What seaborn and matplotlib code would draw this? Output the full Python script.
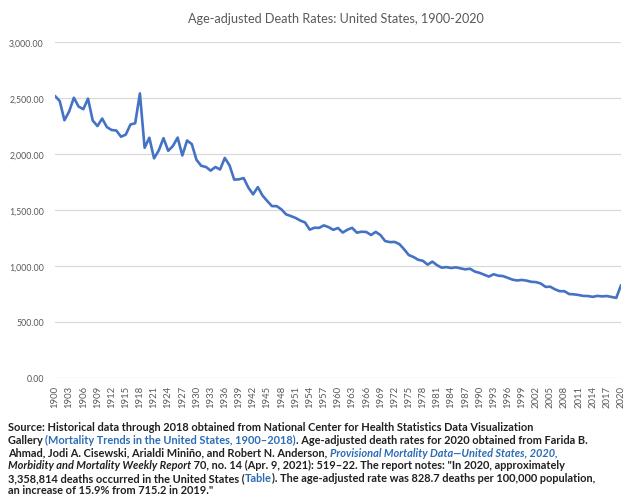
import numpy as np
import pandas as pd
import matplotlib
matplotlib.use("Agg")
import matplotlib.pyplot as plt
import seaborn as sns

years = list(range(1900, 2021))
death_rates = [
    2518.0, 2473.1, 2301.3, 2379.8, 2502.4, 2423.6, 2399.8, 2494.3, 2298.5, 2249.4,  # 1900-1909
    2316.5, 2240.3, 2214.1, 2209.9, 2154.0, 2173.2, 2263.5, 2274.5, 2541.1, 2055.5,  # 1910-1919
    2145.5, 1960.9, 2031.9, 2141.6, 2028.5, 2071.4, 2146.2, 1987.0, 2120.3, 2088.4,  # 1920-1929
    1947.8, 1894.4, 1884.4, 1851.5, 1884.0, 1861.7, 1964.8, 1898.8, 1771.4, 1773.9,  # 1930-1939
    1785.0, 1699.4, 1639.7, 1704.4, 1629.0, 1579.9, 1534.9, 1534.5, 1505.6, 1460.7,  # 1940-1949
    1446.0, 1429.2, 1405.9, 1389.0, 1324.5, 1341.8, 1340.6, 1362.6, 1346.9, 1323.2,  # 1950-1959
    1339.2, 1298.6, 1323.9, 1340.8, 1297.7, 1306.1, 1303.5, 1276.9, 1304.5, 1276.2,  # 1960-1969
    1222.6, 1213.1, 1214.8, 1196.2, 1150.2, 1097.8, 1080.6, 1055.6, 1046.5, 1012.1,  # 1970-1979
    1039.1, 1007.1, 985.0, 990.0, 982.0, 988.1, 978.6, 970.0, 975.7, 950.5,          # 1980-1989
    938.7, 922.3, 905.6, 926.1, 913.5, 909.8, 894.1, 878.1, 870.6, 875.6,            # 1990-1999
    869.0, 858.8, 855.9, 843.5, 813.7, 815.0, 791.8, 775.3, 774.9, 749.6,            # 2000-2009
    747.0, 741.3, 732.8, 731.9, 724.6, 733.1, 728.8, 731.9, 723.6, 715.2,            # 2010-2019
    828.7,                                                                           # 2020
]
tick_years = list(range(1900, 2021, 3))
y_ticks = [0, 500, 1000, 1500, 2000, 2500, 3000]
y_tick_labels = ["0.00", "500.00", "1,000.00", "1,500.00", "2,000.00", "2,500.00", "3,000.00"]

title = "Age-adjusted Death Rates: United States, 1900-2020"

DARK = "#231f20"
BLUE = "#2b6cb5"
source_lines = [
    [("Source: Historical data through 2018 obtained from National Center for Health Statistics Data Visualization", DARK, "normal")],
    [("Gallery ", DARK, "normal"),
     ("(Mortality Trends in the United States, 1900\u20132018)", BLUE, "normal"),
     (". Age-adjusted death rates for 2020 obtained from Farida B.", DARK, "normal")],
    [("Ahmad, Jodi A. Cisewski, Arialdi Mini\u00f1o, and Robert N. Anderson, ", DARK, "normal"),
     ("Provisional Mortality Data\u2014United States, 2020,", BLUE, "italic")],
    [("Morbidity and Mortality Weekly Report", DARK, "italic"),
     (" 70, no. 14 (Apr. 9, 2021): 519\u201322. The report notes: \"In 2020, approximately", DARK, "normal")],
    [("3,358,814 deaths occurred in the United States (", DARK, "normal"),
     ("Table", BLUE, "normal"),
     ("). The age-adjusted rate was 828.7 deaths per 100,000 population,", DARK, "normal")],
    [("an increase of 15.9% from 715.2 in 2019.\"", DARK, "normal")],
]

df = pd.DataFrame({"Year": years, "Rate": death_rates})

sns.set_theme(style="white")
plt.rcParams["font.family"] = ["Lato", "DejaVu Sans"]

W, H = 641, 502
fig = plt.figure(figsize=(W / 100, H / 100), dpi=100)
ax = fig.add_axes([55 / W, (H - 379) / H, (621 - 55) / W, (379 - 43) / H])

sns.lineplot(data=df, x="Year", y="Rate", ax=ax, color="#4472c4", linewidth=1.9)

ax.set_xlim(1900, 2020)
ax.set_ylim(0, 3000)
ax.set_xticks(tick_years)
ax.set_xticklabels([str(y) for y in tick_years], rotation=90, fontsize=6.8, color="#595959")
ax.set_yticks(y_ticks)
ax.set_yticklabels(y_tick_labels, fontsize=6.3, color="#595959")
ax.tick_params(axis="y", length=0, pad=8)
ax.tick_params(axis="x", length=0, pad=5)
ax.grid(axis="y", color="#d9d9d9", linewidth=0.9)
ax.grid(axis="x", visible=False)
for s in ax.spines.values():
    s.set_visible(False)
ax.set_xlabel("")
ax.set_ylabel("")

fig.text(336 / W, 1 - 19 / H, title, ha="center", va="center", fontsize=9.1, color="#595959")

renderer = fig.canvas.get_renderer()
y0 = 431.5
for i, pieces in enumerate(source_lines):
    x = 8
    yy = y0 + i * 12.6
    for txt, color, style in pieces:
        t = fig.text(x / W, 1 - yy / H, txt, ha="left", va="baseline", fontsize=7.9,
                     fontweight="bold", fontstyle=style, color=color)
        bb = t.get_window_extent(renderer=renderer)
        x += bb.width

fig.savefig("out.png", dpi=100, facecolor="white")
